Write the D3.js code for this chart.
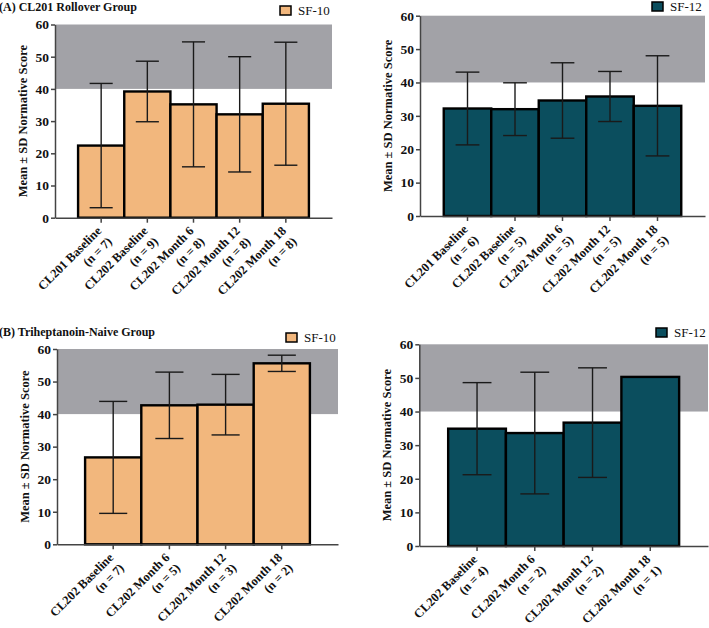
<!DOCTYPE html>
<html lang="en">
<head>
<meta charset="UTF-8">
<title>SF-10 / SF-12 Normative Scores</title>
<style>
  body { margin: 0; background: #fff; }
  text { font-family: "Liberation Serif", "DejaVu Serif", serif; }
</style>
</head>
<body>
<script src="https://cdnjs.cloudflare.com/ajax/libs/d3/7.8.5/d3.min.js"></script>
<script>
// panel A: CL201 rollover group
const aSf10Labels = ["CL201 Baseline", "CL202 Baseline", "CL202 Month 6", "CL202 Month 12", "CL202 Month 18"]
const aSf10N = [7, 9, 8, 8, 8]
const aSf10Mean = [22.4, 39.2, 35.2, 32.1, 35.4]
const aSf10Sd = [19.3, 9.4, 19.4, 17.9, 19.1]

const aSf12Labels = ["CL201 Baseline", "CL202 Baseline", "CL202 Month 6", "CL202 Month 12", "CL202 Month 18"]
const aSf12N = [6, 5, 5, 5, 5]
const aSf12Mean = [32.2, 32.0, 34.6, 35.8, 33.0]
const aSf12Sd = [10.9, 7.9, 11.3, 7.5, 15.0]

// panel B: triheptanoin-naive group
const bSf10Labels = ["CL202 Baseline", "CL202 Month 6", "CL202 Month 12", "CL202 Month 18"]
const bSf10N = [7, 5, 3, 2]
const bSf10Mean = [26.7, 42.7, 42.9, 55.6]
const bSf10Sd = [17.2, 10.2, 9.3, 2.5]

const bSf12Labels = ["CL202 Baseline", "CL202 Month 6", "CL202 Month 12", "CL202 Month 18"]
const bSf12N = [4, 2, 2, 1]
const bSf12Mean = [34.9, 33.6, 36.7, 50.3]
const bSf12Sd = [13.7, 18.1, 16.3, null]

const yTicks = [0, 10, 20, 30, 40, 50, 60]
const normalBand = [40, 60]

const orange = '#f2b77d'
const teal = '#0b4e5e'

const svg = d3.select('body').append('svg')
    .attr('width', 709)
    .attr('height', 628)

function drawPanel(p) {
    const g = svg.append('g')

    const x = d3.scaleBand()
        .domain(p.labels)
        .range([p.x0, p.x1])
        .paddingInner(0)
        .paddingOuter(0.5)

    const y = d3.scaleLinear()
        .domain([0, 60])
        .range([p.yb, p.yt])

    // grey normal range
    g.append('rect')
        .attr('x', p.x0)
        .attr('width', p.x1 - p.x0)
        .attr('y', y(normalBand[1]))
        .attr('height', y(normalBand[0]) - y(normalBand[1]))
        .attr('fill', '#a2a2a7')

    const rows = p.labels.map((l, i) => ({ label: l, n: p.n[i], mean: p.mean[i], sd: p.sd[i] }))

    g.selectAll('.bar')
        .data(rows)
        .enter()
        .append('rect')
            .attr('x', d => x(d.label))
            .attr('width', x.bandwidth())
            .attr('y', d => y(d.mean))
            .attr('height', d => y(0) - y(d.mean))
            .attr('fill', p.color)
            .attr('stroke', '#000')
            .attr('stroke-width', 2.4)

    const err = g.selectAll('.err')
        .data(rows.filter(d => d.sd != null))
        .enter()
        .append('g')
            .attr('transform', d => `translate(${x(d.label) + x.bandwidth() / 2},0)`)
            .attr('stroke', '#1a1a1a')
            .attr('stroke-width', 1.4)
    err.append('line')
        .attr('y1', d => y(d.mean - d.sd))
        .attr('y2', d => y(d.mean + d.sd))
    const cap = x.bandwidth() / 4
    err.append('line')
        .attr('x1', -cap).attr('x2', cap)
        .attr('y1', d => y(d.mean + d.sd)).attr('y2', d => y(d.mean + d.sd))
    err.append('line')
        .attr('x1', -cap).attr('x2', cap)
        .attr('y1', d => y(d.mean - d.sd)).attr('y2', d => y(d.mean - d.sd))

    // y axis
    const ya = g.append('g')
        .attr('transform', `translate(${p.x0},0)`)
        .call(d3.axisLeft(y).tickValues(yTicks).tickSize(4).tickSizeOuter(0).tickPadding(2))
    ya.selectAll('path, line').attr('stroke', '#444').attr('stroke-width', 1.5)
    ya.selectAll('text')
        .attr('font-family', '"Liberation Serif", serif')
        .attr('font-weight', 'bold')
        .attr('font-size', 13.5)
        .attr('fill', '#111')

    // x axis
    const xa = g.append('g')
        .attr('transform', `translate(0,${p.yb})`)
        .call(d3.axisBottom(x).tickSize(5).tickSizeOuter(0).tickFormat(''))
    xa.selectAll('path, line').attr('stroke', '#444').attr('stroke-width', 1.5)

    const lab = g.selectAll('.xlab')
        .data(rows)
        .enter()
        .append('text')
            .attr('transform', d => `translate(${x(d.label) + x.bandwidth() / 2 + 1},${p.yb + 14}) rotate(-45)`)
            .attr('text-anchor', 'end')
            .attr('font-weight', 'bold')
            .attr('font-size', 12.5)
            .attr('fill', '#111')
    lab.append('tspan').attr('x', 0).attr('dy', 0).text(d => d.label)
    lab.append('tspan').attr('x', 0).attr('dy', '1.2em').text(d => `(n = ${d.n})`)

    // y label
    g.append('text')
        .attr('transform', `translate(${p.x0 - 28},${(p.yt + p.yb) / 2}) rotate(-90)`)
        .attr('text-anchor', 'middle')
        .attr('font-weight', 'bold')
        .attr('font-size', 12.5)
        .attr('fill', '#111')
        .text('Mean ± SD Normative Score')

    // legend
    g.append('rect')
        .attr('x', p.lx).attr('y', p.ly)
        .attr('width', 11).attr('height', 9)
        .attr('fill', p.color)
        .attr('stroke', '#000')
        .attr('stroke-width', 1.5)
    g.append('text')
        .attr('x', p.lx + 18).attr('y', p.ly + 9)
        .attr('font-size', 13)
        .attr('fill', '#111')
        .text(p.legend)

    if (p.title) {
        g.append('text')
            .attr('x', -1).attr('y', p.ty)
            .attr('font-weight', 'bold')
            .attr('font-size', 12)
            .attr('fill', '#111')
            .text(p.title)
    }
}

drawPanel({ labels: aSf10Labels, n: aSf10N, mean: aSf10Mean, sd: aSf10Sd, color: orange,
    x0: 55, x1: 332, yt: 24.5, yb: 217.7, lx: 280, ly: 6, legend: 'SF-10',
    title: '(A) CL201 Rollover Group', ty: 11 })
drawPanel({ labels: aSf12Labels, n: aSf12N, mean: aSf12Mean, sd: aSf12Sd, color: teal,
    x0: 420, x1: 705, yt: 15.7, yb: 216, lx: 652, ly: 2, legend: 'SF-12' })
drawPanel({ labels: bSf10Labels, n: bSf10N, mean: bSf10Mean, sd: bSf10Sd, color: orange,
    x0: 57, x1: 338, yt: 349, yb: 544.3, lx: 286, ly: 333, legend: 'SF-10',
    title: '(B) Triheptanoin-Naive Group', ty: 336 })
drawPanel({ labels: bSf12Labels, n: bSf12N, mean: bSf12Mean, sd: bSf12Sd, color: teal,
    x0: 419.3, x1: 708, yt: 344.3, yb: 546, lx: 656, ly: 328, legend: 'SF-12' })
</script>
</body>
</html>
